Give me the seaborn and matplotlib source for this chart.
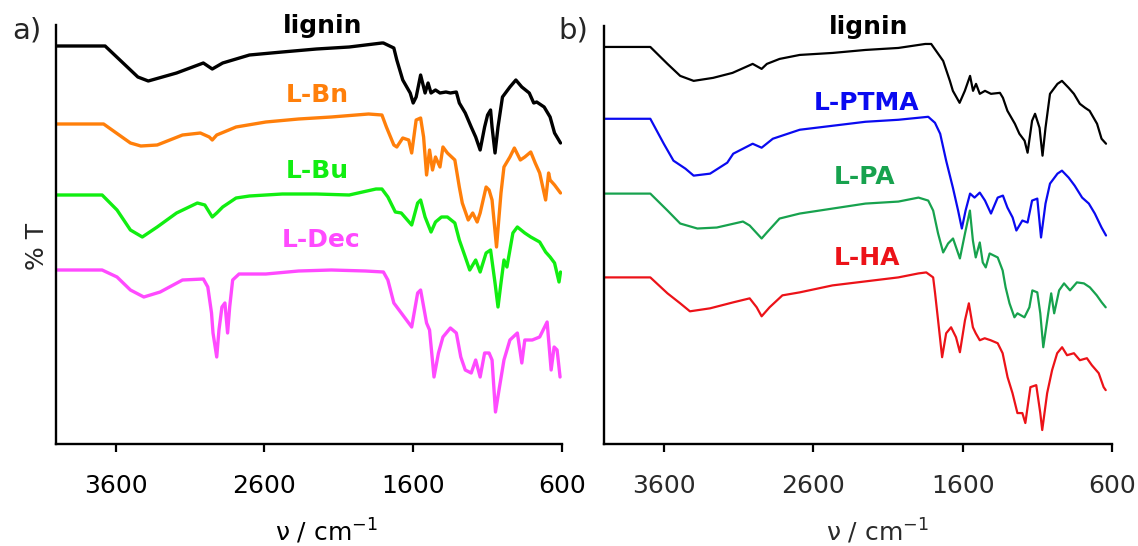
import matplotlib
matplotlib.use("Agg")
import matplotlib.pyplot as plt
import pandas as pd
import seaborn as sns

# ---------------- panel a : lignin and its ether derivatives ----------------
wn_lignin_a = [4000, 3670, 3450, 3380, 3190, 3010, 2950, 2880, 2700, 2480, 2250, 2030, 1810, 1800,
               1730, 1710, 1670, 1620, 1600, 1580, 1550, 1520, 1500, 1480, 1450, 1420, 1380, 1350,
               1310, 1290, 1250, 1210, 1180, 1150, 1120, 1100, 1080, 1070, 1050, 1030, 1000, 950,
               910, 870, 820, 790, 770, 720, 680, 650, 610]
t_lignin_a = [394, 394, 363, 359, 367, 377, 371, 377, 385, 388, 391, 393, 397, 397,
              392, 380, 360, 347, 337, 343, 365, 347, 357, 347, 350, 347, 348, 347,
              348, 337, 327, 313, 303, 290, 313, 325, 330, 313, 287, 313, 343, 353,
              360, 353, 347, 337, 338, 333, 323, 307, 297]

wn_bn = [4000, 3680, 3500, 3430, 3320, 3150, 3030, 2970, 2950, 2920, 2790, 2590, 2370, 2150, 1900,
         1810, 1780, 1730, 1710, 1670, 1630, 1610, 1580, 1550, 1530, 1510, 1490, 1470, 1450, 1420,
         1400, 1370, 1320, 1290, 1270, 1230, 1200, 1170, 1150, 1110, 1090, 1070, 1040, 1010, 990,
         950, 920, 880, 850, 810, 780, 750, 710, 690, 680, 650, 610]
t_bn = [316, 316, 297, 294, 295, 305, 307, 303, 300, 305, 313, 318, 321, 323, 326,
        325, 313, 295, 293, 302, 300, 287, 320, 322, 303, 265, 290, 270, 283, 273,
        293, 287, 280, 253, 237, 220, 227, 218, 227, 253, 250, 240, 193, 247, 273,
        283, 292, 280, 283, 288, 277, 267, 240, 267, 260, 255, 247]

wn_bu = [4000, 3690, 3590, 3500, 3420, 3320, 3190, 3050, 3000, 2950, 2920, 2880, 2790, 2700, 2480,
         2250, 2030, 1850, 1810, 1770, 1720, 1680, 1610, 1570, 1550, 1520, 1480, 1450, 1410, 1370,
         1320, 1290, 1250, 1220, 1180, 1150, 1110, 1080, 1050, 1030, 1010, 990, 970, 930, 900,
         850, 810, 750, 710, 680, 650, 620, 610]
t_bu = [245, 245, 230, 210, 203, 213, 227, 237, 235, 223, 227, 233, 242, 244, 246,
        246, 245, 251, 251, 243, 228, 227, 215, 237, 240, 223, 208, 218, 223, 223,
        217, 200, 183, 170, 180, 168, 187, 190, 157, 133, 157, 180, 173, 207, 213,
        207, 203, 198, 188, 183, 177, 158, 168]

wn_dec = [4000, 3690, 3590, 3500, 3410, 3300, 3150, 3010, 2980, 2955, 2945, 2920, 2905, 2885, 2865,
          2847, 2833, 2813, 2770, 2590, 2370, 2150, 1920, 1800, 1770, 1730, 1680, 1610, 1570, 1550,
          1510, 1490, 1460, 1430, 1400, 1350, 1310, 1280, 1250, 1210, 1180, 1150, 1120, 1090, 1070,
          1047, 1020, 990, 950, 900, 870, 850, 800, 750, 700, 673, 653, 633, 613]
t_dec = [170, 170, 163, 150, 143, 148, 160, 161, 153, 127, 107, 83, 110, 133, 137,
         107, 133, 160, 166, 166, 169, 170, 169, 168, 160, 137, 127, 113, 147, 150,
         117, 110, 63, 87, 103, 112, 107, 83, 70, 67, 80, 63, 87, 87, 80,
         28, 53, 80, 100, 107, 77, 100, 100, 103, 118, 70, 93, 90, 63]

# ---------------- panel b : lignin and its ester derivatives ----------------
wn_lignin_b = [4000, 3690, 3575, 3490, 3400, 3270, 3140, 3005, 2945, 2910, 2825, 2690, 2470, 2250,
               2030, 1850, 1810, 1730, 1685, 1665, 1620, 1585, 1550, 1530, 1510, 1485, 1450, 1410,
               1350, 1330, 1300, 1250, 1220, 1185, 1165, 1135, 1115, 1085, 1065, 1045, 1015, 965,
               935, 890, 855, 815, 780, 750, 700, 670, 640]
t_lignin_b = [394, 394, 377, 365, 360, 363, 368, 377, 372, 377, 382, 386, 388, 391,
              393, 397, 397, 380, 360, 350, 338, 350, 365, 350, 357, 347, 350, 347,
              348, 343, 330, 317, 307, 300, 288, 320, 327, 313, 285, 313, 347, 357,
              360, 353, 347, 337, 333, 330, 317, 302, 297]

wn_ptma = [4000, 3690, 3600, 3535, 3455, 3400, 3290, 3175, 3135, 3005, 2945, 2870, 2690, 2470, 2250,
           2030, 1830, 1785, 1750, 1710, 1665, 1630, 1605, 1580, 1550, 1520, 1485, 1450, 1410, 1365,
           1330, 1300, 1265, 1240, 1200, 1165, 1135, 1100, 1075, 1045, 1015, 965, 935, 890, 850,
           800, 755, 715, 670, 640]
t_ptma = [322, 322, 297, 280, 272, 265, 267, 278, 287, 297, 293, 302, 311, 315, 319,
          321, 324, 318, 307, 280, 253, 230, 212, 230, 247, 243, 248, 240, 227, 243,
          245, 233, 223, 210, 220, 218, 240, 242, 203, 237, 257, 267, 270, 263, 255,
          243, 237, 227, 213, 205]

wn_pa = [4000, 3690, 3575, 3490, 3375, 3245, 3070, 3025, 2945, 2910, 2825, 2690, 2470, 2250, 2030,
         1895, 1830, 1797, 1764, 1730, 1697, 1664, 1618, 1584, 1551, 1531, 1512, 1485, 1465, 1445,
         1419, 1365, 1332, 1312, 1286, 1253, 1233, 1186, 1153, 1133, 1100, 1080, 1060, 1027, 1007,
         987, 954, 921, 881, 835, 788, 748, 702, 669, 642]
t_pa = [247, 247, 230, 217, 212, 213, 219, 215, 202, 208, 222, 227, 232, 237, 239,
        243, 240, 230, 207, 188, 197, 202, 182, 207, 230, 200, 183, 198, 178, 173,
        187, 183, 170, 153, 137, 123, 127, 123, 133, 150, 148, 127, 93, 127, 147,
        127, 150, 157, 150, 158, 157, 153, 145, 138, 133]

wn_ha = [4000, 3690, 3575, 3490, 3425, 3290, 3135, 3025, 2978, 2945, 2892, 2806, 2690, 2470, 2250,
         2030, 1895, 1843, 1797, 1784, 1764, 1737, 1710, 1677, 1644, 1618, 1584, 1558, 1531, 1512,
         1485, 1452, 1412, 1365, 1332, 1299, 1266, 1233, 1200, 1180, 1146, 1107, 1080, 1067, 1034,
         1001, 967, 934, 901, 855, 815, 768, 735, 689, 656, 642]
t_ha = [163, 163, 147, 137, 129, 132, 138, 142, 133, 124, 133, 145, 148, 155, 159,
        163, 167, 168, 163, 147, 120, 83, 107, 113, 103, 88, 120, 137, 113, 107,
        100, 102, 100, 97, 87, 63, 47, 27, 27, 17, 53, 55, 27, 10, 47,
        70, 87, 93, 85, 87, 80, 82, 75, 67, 53, 50]

xticks = [3600, 2600, 1600, 600]

# name, wavenumbers, transmittance, colour, label anchor (wavenumber, transmittance)
panel_a = [
    ("lignin", wn_lignin_a, t_lignin_a, "#000000", (2207, 407)),
    ("L-Bn", wn_bn, t_bn, "#FF7F0A", (2247, 338)),
    ("L-Bu", wn_bu, t_bu, "#11EE11", (2247, 262)),
    ("L-Dec", wn_dec, t_dec, "#FF4AFF", (2220, 193)),
]
panel_b = [
    ("lignin", wn_lignin_b, t_lignin_b, "#000000", (2228, 407)),
    ("L-PTMA", wn_ptma, t_ptma, "#0A0AF0", (2241, 331)),
    ("L-PA", wn_pa, t_pa, "#17A24E", (2255, 257)),
    ("L-HA", wn_ha, t_ha, "#EC1218", (2241, 175)),
]

sns.set_style("white")
plt.rcParams["font.family"] = ["DejaVu Sans"]
plt.rcParams["mathtext.fontset"] = "dejavusans"

W, H = 1138, 546
fig = plt.figure(figsize=(W / 100, H / 100), dpi=100)
ax_a = fig.add_axes([56 / W, 102 / H, 506 / W, 419 / H])
ax_b = fig.add_axes([604 / W, 102 / H, 508 / W, 418 / H])


def draw_panel(ax, series, lw, text_color, label_size):
    for name, wn, t, color, (lx, ly) in series:
        assert len(wn) == len(t), name
        df = pd.DataFrame({"wavenumber": wn, "T": t})
        sns.lineplot(data=df, x="wavenumber", y="T", ax=ax, color=color, linewidth=lw,
                     estimator=None, sort=False)
        ax.text(lx, ly, name, color=color, fontsize=label_size, fontweight="bold",
                ha="center", va="baseline")
    ax.set_xlim(4000, 600)
    ax.set_ylim(-4, 415)
    ax.set_xticks(xticks)
    ax.set_xticklabels([str(v) for v in xticks])
    ax.set_yticks([])
    ax.set_xlabel("")
    ax.set_ylabel("")
    for side in ("top", "right"):
        ax.spines[side].set_visible(False)
    for side in ("left", "bottom"):
        ax.spines[side].set_color("black")
        ax.spines[side].set_linewidth(1.7)
    ax.tick_params(axis="x", direction="out", length=6, width=1.6, pad=15.5,
                   labelsize=18, color="black", labelcolor=text_color, bottom=True)


draw_panel(ax_a, panel_a, 2.4, "black", 18)
draw_panel(ax_b, panel_b, 1.6, "#2a2a2a", 18)

# axis titles and panel tags
fig.text(326 / W, 1 - 541 / H, r"ν / cm$^{-1}$", fontsize=18, ha="center", va="baseline",
         color="black")
fig.text(877 / W, 1 - 541 / H, r"ν / cm$^{-1}$", fontsize=18, ha="center", va="baseline",
         color="#2a2a2a")
fig.text(37 / W, 1 - 246 / H, "% T", fontsize=18, rotation=90, ha="center", va="center")
fig.text(27 / W, 1 - 30 / H, "a)", fontsize=21, ha="center", va="center")
fig.text(573 / W, 1 - 30 / H, "b)", fontsize=21, ha="center", va="center")

fig.savefig("out.png", dpi=100)
